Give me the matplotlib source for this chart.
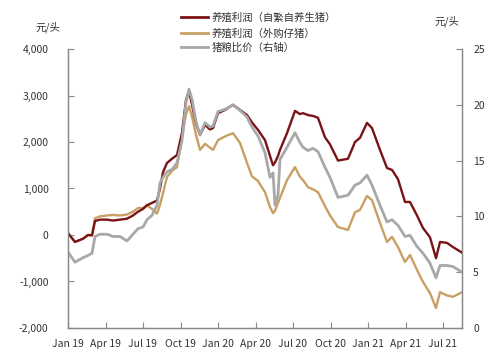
import matplotlib
matplotlib.use("Agg")
import matplotlib.pyplot as plt
from matplotlib.lines import Line2D

plt.rcParams['font.family'] = ['Noto Sans CJK SC', 'DejaVu Sans']

# x in months since Jan 2019
months = [0.0, 0.56, 1.2, 1.6, 1.92, 2.16, 2.56, 3.12, 3.6, 4.16, 4.72, 5.2, 5.6, 6.0,
          6.32, 6.72, 7.12, 7.36, 7.6, 7.92, 8.32, 8.72, 9.12, 9.44, 9.68, 9.92, 10.24,
          10.56, 10.96, 11.36, 11.6, 12.0, 12.56, 13.2, 13.76, 14.32, 14.72, 15.2, 15.76,
          16.16, 16.4, 16.56, 16.8, 16.96, 17.52, 18.16, 18.56, 18.8, 19.2, 19.6, 20.0,
          20.56, 20.96, 21.6, 22.4, 22.96, 23.36, 23.92, 24.32, 24.96, 25.52, 25.92, 26.4,
          26.96, 27.36, 27.92, 28.4, 28.96, 29.44, 29.76, 30.32, 30.8, 31.52]

profit_self = [40, -150, -80, 0, -10, 300, 330, 330, 310, 330, 350, 420, 500, 560,
               640, 690, 740, 1000, 1350, 1550, 1640, 1720, 2200, 2900, 3100, 2800, 2400,
               2150, 2370, 2270, 2300, 2620, 2690, 2800, 2690, 2580, 2420, 2260, 2040,
               1700, 1500, 1560, 1700, 1830, 2190, 2670, 2600, 2620, 2580, 2560, 2520,
               2100, 1950, 1600, 1640, 2000, 2090, 2410, 2300, 1830, 1440, 1400, 1200,
               710, 710, 420, 150, -50, -500, -150, -170, -260, -380]

profit_piglet = [40, -150, -80, 0, 0, 360, 400, 420, 430, 420, 440, 500, 580, 580,
                 640, 560, 460, 650, 900, 1250, 1380, 1460, 2100, 2600, 2770, 2550, 2150,
                 1830, 1960, 1880, 1830, 2040, 2120, 2190, 1980, 1550, 1260, 1160, 920,
                 600, 470, 520, 690, 800, 1180, 1460, 1250, 1180, 1030, 980, 920,
                 620, 420, 170, 110, 490, 540, 840, 750, 260, -150, -40, -260,
                 -580, -430, -750, -1010, -1250, -1570, -1230, -1300, -1330, -1230]

hog_grain_ratio = [6.8, 5.9, 6.3, 6.5, 6.7, 8.2, 8.4, 8.4, 8.2, 8.2, 7.8, 8.4, 8.9, 9.05,
                   9.7, 10.1, 11.0, 13.0, 13.5, 14.0, 14.2, 14.8, 16.8, 20.2, 21.4, 20.5, 18.5,
                   17.3, 18.4, 18.0, 18.1, 19.4, 19.6, 20.0, 19.5, 18.9, 18.0, 17.2, 15.7,
                   13.5, 13.9, 11.0, 11.9, 15.1, 16.2, 17.5, 16.6, 16.2, 15.9, 16.1, 15.8,
                   14.4, 13.5, 11.7, 11.9, 12.8, 13.0, 13.7, 12.8, 11.0, 9.5, 9.7, 9.2,
                   8.2, 8.3, 7.3, 6.7, 5.8, 4.5, 5.6, 5.6, 5.5, 5.0]

tick_pos = [0, 3, 6, 9, 12, 15, 18, 21, 24, 27, 30]
tick_labels = ['Jan 19', 'Apr 19', 'Jul 19', 'Oct 19', 'Jan 20', 'Apr 20', 'Jul 20',
               'Oct 20', 'Jan 21', 'Apr 21', 'Jul 21']
series_names = ['养殖利润（自繁自养生猪）', '养殖利润（外购仔猪）', '猪粮比价（右轴）']

c_red = '#7a1315'
c_gold = '#c9a063'
c_grey = '#a8a8a8'
spine_c = '#888888'
txt_c = '#333333'
fs = 7.5

fig = plt.figure(figsize=(5.0, 3.62), dpi=100)
ax = fig.add_axes([0.136, 0.094, 0.788, 0.7706])
ax2 = ax.twinx()

ax.plot(months, profit_piglet, color=c_gold, lw=1.7, zorder=2)
ax.plot(months, profit_self, color=c_red, lw=1.7, zorder=3)
ax2.plot(months, hog_grain_ratio, color=c_grey, lw=2.0)

ax.set_xlim(0, 31.52)
ax.set_ylim(-2000, 4000)
ax.set_yticks(range(-2000, 4001, 1000))
ax.set_yticklabels([f'{v:,}' for v in range(-2000, 4001, 1000)])
ax2.set_ylim(0, 25)
ax2.set_yticks(range(0, 26, 5))
ax.set_xticks(tick_pos)
ax.set_xticklabels(tick_labels)

for a in (ax, ax2):
    a.spines['top'].set_visible(False)
    for s in ('left', 'right', 'bottom'):
        a.spines[s].set_color(spine_c)
        a.spines[s].set_linewidth(0.9)
    a.tick_params(direction='in', length=4, width=0.8, color=spine_c,
                  labelsize=fs, labelcolor=txt_c)
ax.tick_params(axis='y', pad=14)
ax.tick_params(axis='x', pad=8)
ax2.tick_params(axis='y', pad=8)

fig.text(0.096, 0.925, '元/头', fontsize=fs, color=txt_c, ha='center', va='center')
fig.text(0.894, 0.94, '元/头', fontsize=fs, color=txt_c, ha='center', va='center')

handles = [Line2D([], [], color=c_red, lw=2.0),
           Line2D([], [], color=c_gold, lw=2.0),
           Line2D([], [], color=c_grey, lw=2.0)]
fig.legend(handles, series_names, loc='upper left', bbox_to_anchor=(0.35, 0.982),
           frameon=False, fontsize=fs, handlelength=2.6, handletextpad=0.35,
           labelspacing=0.45, borderaxespad=0.2, labelcolor=txt_c)

fig.savefig('out.png', dpi=100)
